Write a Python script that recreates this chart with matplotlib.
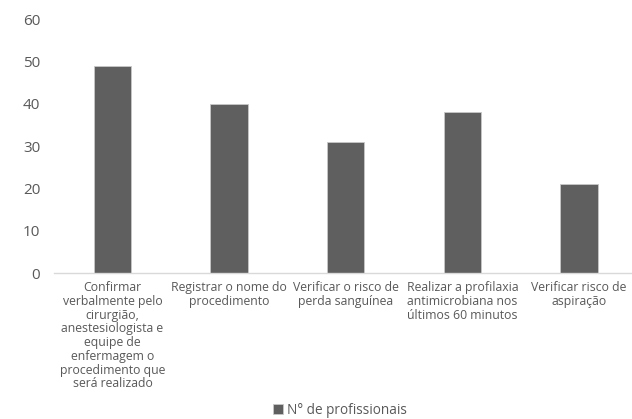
import matplotlib.pyplot as plt

categorias = [
    'Confirmar\nverbalmente pelo\ncirurgião,\nanestesiologista e\nequipe de\nenfermagem o\nprocedimento que\nserá realizado',
    'Registrar o nome do\nprocedimento',
    'Verificar o risco de\nperda sanguínea',
    'Realizar a profilaxia\nantimicrobiana nos\núltimos 60 minutos',
    'Verificar risco de\naspiração',
]
profissionais = [49, 40, 31, 38, 21]
yticks = [0, 10, 20, 30, 40, 50, 60]

plt.rcParams['font.family'] = ['Open Sans', 'DejaVu Sans']
cinza_texto = '#595959'

fig = plt.figure(figsize=(6.32, 4.19), dpi=100)
ax = fig.add_axes([0.0858, 0.3484, 0.9225, 0.606])

x = range(len(categorias))
ax.bar(x, profissionais, width=0.32, color='#5f5f5f', edgecolor='#c8c8c8',
       linewidth=0.6, label='N° de profissionais')

ax.set_xlim(-0.5, len(categorias) - 0.5)
ax.set_ylim(0, 60)
ax.set_yticks(yticks)
ax.set_xticks(list(x))
ax.set_xticklabels(categorias, fontsize=8.8, color=cinza_texto, linespacing=1.07, va='top')
ax.tick_params(axis='y', labelsize=11, colors=cinza_texto, length=0, pad=10)
ax.tick_params(axis='x', length=0, pad=6)

for s in ['top', 'right', 'left']:
    ax.spines[s].set_visible(False)
ax.spines['bottom'].set_color('#d9d9d9')
ax.spines['bottom'].set_linewidth(1)

fig.legend(loc='center', bbox_to_anchor=(340 / 632, 1 - 410 / 419), frameon=False,
           fontsize=9.8, labelcolor=cinza_texto, handlelength=0.7, handleheight=0.7,
           handletextpad=0.3)

plt.savefig('out.png', dpi=100)
